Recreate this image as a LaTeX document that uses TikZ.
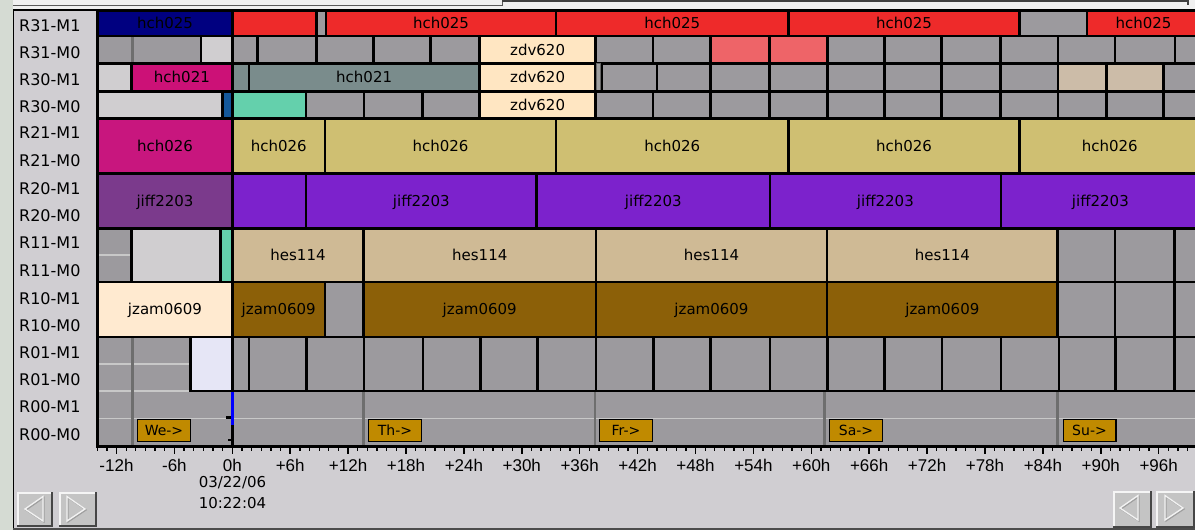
\documentclass[tikz,border=0pt]{standalone}
\usepackage{fontspec}
\setmainfont{DejaVu Sans}
\newfontfamily\tickfont{Liberation Sans}
\definecolor{winbg}{HTML}{D5DBD3}
\definecolor{panel}{HTML}{D0CED2}
\definecolor{chartbg}{HTML}{9C9A9E}
\definecolor{gbox}{HTML}{9C9A9E}
\definecolor{cnavy}{HTML}{000080}
\definecolor{cred}{HTML}{EE2A2A}
\definecolor{lred}{HTML}{EE6468}
\definecolor{peach}{HTML}{FFE6C2}
\definecolor{lgray}{HTML}{D0CED0}
\definecolor{magA}{HTML}{CC1177}
\definecolor{magB}{HTML}{C8167E}
\definecolor{tealgray}{HTML}{7A8C8C}
\definecolor{blueS}{HTML}{14589A}
\definecolor{cteal}{HTML}{64D0AC}
\definecolor{beige}{HTML}{CCBCA8}
\definecolor{khaki}{HTML}{CFBF72}
\definecolor{purpA}{HTML}{7B3A8C}
\definecolor{cviolet}{HTML}{7C22CC}
\definecolor{ctan}{HTML}{CFBA95}
\definecolor{cream}{HTML}{FFEAD0}
\definecolor{cbrown}{HTML}{8C6008}
\definecolor{lav}{HTML}{E6E6F6}
\definecolor{dayc}{HTML}{C08A00}
\definecolor{daylinec}{HTML}{6E6E6E}
\definecolor{bglinec}{HTML}{C8C8C8}
\definecolor{btnc}{HTML}{C4C4C4}
\newcommand\gbx[5]{\filldraw[fill=#5,draw=black,line width=2.6pt] (#1,#3) rectangle (#2,#4);}
\newcommand\gbxt[6]{\gbx{#1}{#2}{#3}{#4}{#5}\node[boxlab] at ({(#1+#2)/2},{(#3+#4)/2}) {#6};}
\newcommand\btnbox[4]{%
  \fill[btnc] (#1,#2) rectangle (#3,#4);
  \draw[white!92!gray, line width=2pt] (#1+1,#4) -- (#1+1,#2+1) -- (#3,#2+1);
  \draw[gray!55!black, line width=2pt] (#1,#4-1) -- (#3-1,#4-1) -- (#3-1,#2);}
\begin{document}
\begin{tikzpicture}[x=1pt,y=-1pt,
  boxlab/.style={font=\fontsize{15}{18}\selectfont, text=black, inner sep=0pt, text height=11pt, text depth=0pt},
  rowlab/.style={font=\fontsize{16}{18}\selectfont, anchor=west, inner sep=0pt, text height=11.7pt, text depth=0pt},
  ticklab/.style={font=\tickfont\fontsize{17}{20}\selectfont, inner sep=0pt, text height=12.2pt, text depth=0pt},
  datelab/.style={font=\fontsize{15}{18}\selectfont, inner sep=0pt, text height=11pt, text depth=0pt},
  daylab/.style={draw=black, line width=1.4pt, fill=dayc, minimum width=52.6pt, minimum height=21.6pt, inner sep=0pt, font=\fontsize{14}{16}\selectfont},
  tri/.style={line width=1.3pt, line join=miter},
]
\useasboundingbox (0,0) rectangle (1195,530);
\clip (0,0) rectangle (1195,530);
% window background
\fill[winbg] (0,0) rectangle (1195,530);
\fill[panel] (13,10) rectangle (1195,530);
% top strip
\fill[white!88!gray] (13,0) rectangle (1195,9);
\draw[gray!70!black, line width=1pt] (13,5) -- (502,5) -- (502,0);
\draw[black!75, line width=1.2pt] (502,1) -- (1188,1) -- (1188,5);
% chart area
\fill[chartbg] (97,10) rectangle (1195,446);
\foreach \yy in {35.8,63.6,91.2,118.6,146.1,173.6,201.1,228.6,255.2,281.8,309.3,336.8,363.9,391,418.5}
  \draw[bglinec, line width=1.6pt] (97,\yy) -- (1195,\yy);
\foreach \xx in {132.3,363.5,594.8,824.4,1057.5}
  \draw[daylinec, line width=2.6pt] (\xx,10) -- (\xx,446);
% R31-M1
\gbxt{97.5}{232.5}{11}{35.8}{cnavy}{hch025}
\gbx{232.5}{316.5}{11}{35.8}{cred}
\gbx{316.5}{326}{11}{35.8}{gbox}
\gbxt{326}{556}{11}{35.8}{cred}{hch025}
\gbxt{556}{788.5}{11}{35.8}{cred}{hch025}
\gbxt{788.5}{1019.5}{11}{35.8}{cred}{hch025}
\gbx{1019.5}{1087}{11}{35.8}{gbox}
\gbxt{1087}{1200}{11}{35.8}{cred}{hch025}
% R31-M0
\gbx{201}{232.5}{35.8}{63.6}{lgray}
\foreach \xa/\xb in {232.5/257.2,257.2/316.7,316.7/373.2,373.2/430.7,430.7/479.5,595.7/653,653/710.3,827.5/884.2,884.2/941.3,941.3/1000.7,1000.7/1058,1058/1115,1115/1175,1175/1200}
  {\gbx{\xa}{\xb}{35.8}{63.6}{gbox}}
\gbxt{479.5}{595.7}{35.8}{63.6}{peach}{zdv620}
\gbx{710.3}{769.7}{35.8}{63.6}{lred}
\gbx{769.7}{827.5}{35.8}{63.6}{lred}
% R30-M1
\gbx{97.5}{131.3}{63.6}{91.2}{lgray}
\gbxt{131.3}{232.5}{63.6}{91.2}{magA}{hch021}
\gbx{232.5}{248.8}{63.6}{91.2}{tealgray}
\gbxt{248.8}{479.5}{63.6}{91.2}{tealgray}{hch021}
\gbxt{479.5}{595.7}{63.6}{91.2}{peach}{zdv620}
\foreach \xa/\xb in {601.5/657,657/710.3,710.3/769.7,769.7/827.5,827.5/884.2,884.2/941.3,941.3/1000.7,1000.7/1058,1163.7/1200}
  {\gbx{\xa}{\xb}{63.6}{91.2}{gbox}}
\gbx{1058}{1106.3}{63.6}{91.2}{beige}
\gbx{1106.3}{1163.7}{63.6}{91.2}{beige}
\filldraw[fill=gray!75, draw=black!60, line width=0.8pt] (596.2,63.3) rectangle (600.8,90.8);
% R30-M0
\gbx{97.5}{222.5}{91.2}{118.6}{lgray}
\gbx{222.5}{232.5}{91.2}{118.6}{blueS}
\gbx{232.5}{306}{91.2}{118.6}{cteal}
\foreach \xa/\xb in {306/364,364/422.3,422.3/479.5,595.7/653,653/710.3,710.3/769.7,769.7/827.5,827.5/884.2,884.2/941.3,941.3/1000.7,1000.7/1058,1058/1106.3,1106.3/1163.7,1163.7/1200}
  {\gbx{\xa}{\xb}{91.2}{118.6}{gbox}}
\gbxt{479.5}{595.7}{91.2}{118.6}{peach}{zdv620}
% R21
\gbxt{97.5}{232.5}{118.6}{173.6}{magB}{hch026}
\gbxt{232.5}{325}{118.6}{173.6}{khaki}{hch026}
\gbxt{325}{556}{118.6}{173.6}{khaki}{hch026}
\gbxt{556}{788.5}{118.6}{173.6}{khaki}{hch026}
\gbxt{788.5}{1019.5}{118.6}{173.6}{khaki}{hch026}
\gbxt{1019.5}{1200}{118.6}{173.6}{khaki}{hch026}
% R20
\gbxt{97.5}{232.5}{173.6}{228.6}{purpA}{jiff2203}
\gbx{232.5}{306}{173.6}{228.6}{cviolet}
\gbxt{306}{536.7}{173.6}{228.6}{cviolet}{jiff2203}
\gbxt{536.7}{770}{173.6}{228.6}{cviolet}{jiff2203}
\gbxt{770}{1000.8}{173.6}{228.6}{cviolet}{jiff2203}
\gbxt{1000.8}{1200}{173.6}{228.6}{cviolet}{jiff2203}
% R11
\gbx{131.5}{220.3}{228.6}{281.8}{lgray}
\gbx{220.3}{232.5}{228.6}{281.8}{cteal}
\gbxt{232.5}{363.5}{228.6}{281.8}{ctan}{hes114}
\gbxt{363.5}{596}{228.6}{281.8}{ctan}{hes114}
\gbxt{596}{827}{228.6}{281.8}{ctan}{hes114}
\gbxt{827}{1057.7}{228.6}{281.8}{ctan}{hes114}
\foreach \xa/\xb in {1057.7/1115,1115/1174.3,1174.3/1200}
  {\gbx{\xa}{\xb}{228.6}{281.8}{gbox}}
% R10
\gbxt{97.5}{232.5}{281.8}{336.8}{cream}{jzam0609}
\gbxt{232.5}{325}{281.8}{336.8}{cbrown}{jzam0609}
\gbx{325}{363.5}{281.8}{336.8}{gbox}
\gbxt{363.5}{596}{281.8}{336.8}{cbrown}{jzam0609}
\gbxt{596}{827}{281.8}{336.8}{cbrown}{jzam0609}
\gbxt{827}{1057.7}{281.8}{336.8}{cbrown}{jzam0609}
\foreach \xa/\xb in {1057.7/1115,1115/1174.3,1174.3/1200}
  {\gbx{\xa}{\xb}{281.8}{336.8}{gbox}}
% R01
\gbx{190.5}{232.5}{336.8}{391}{lav}
\foreach \xa/\xb in {232.5/249,249/306.5,306.5/364,364/423,423/480.5,480.5/537.5,537.5/596,596/653.5,653.5/710.5,710.5/770,770/827.3,827.3/884.5,884.5/942,942/1001,1001/1059,1059/1115.5,1115.5/1174.5,1174.5/1200}
  {\gbx{\xa}{\xb}{336.8}{391}{gbox}}
% R00 day labels
\node[daylab] (dWe) at (164,430.5) {We->};
\node[daylab] (dTh) at (395,430.5) {Th->};
\node[daylab] (dFr) at (626,430.5) {Fr->};
\node[daylab] (dSa) at (856,430.5) {Sa->};
\node[daylab] (dSu) at (1089.5,430.5) {Su->};
% now line
\draw[blue, line width=3pt] (232.3,392) -- (232.3,425);
\draw[black, line width=3pt] (232.3,425) -- (232.3,446);
\fill[black] (226,416.2) rectangle (231,418.8);
\fill[black] (228,438.5) rectangle (231,441.2);
% chart borders
\draw[black, line width=2.6pt] (97.5,10) -- (97.5,447);
\draw[black, line width=2pt] (13,10.3) -- (1195,10.3);
\draw[black, line width=1.5pt] (13.3,10) -- (13.3,530);
\draw[gray!60!black, line width=1.5pt] (13,529) -- (1195,529);
% row labels
\foreach \yy/\lbl in {26/R31-M1,53/R31-M0,80/R30-M1,107/R30-M0,133/R21-M1,161/R21-M0,189/R20-M1,216/R20-M0,243/R11-M1,271/R11-M0,299/R10-M1,326/R10-M0,353/R01-M1,380/R01-M0,407/R00-M1,434.5/R00-M0}
  \node[rowlab] at (19,\yy) {\lbl};
% axis
\draw[black, line width=3pt] (96,446) -- (1195,446);
\foreach \t in {-14,...,100}
  \draw[black, line width=1.3pt] ({232.3+9.65*\t},446) -- ++(0,4.5);
\foreach \t/\lbl in {-12/-12h,-6/-6h,0/0h,6/+6h,12/+12h,18/+18h,24/+24h,30/+30h,36/+36h,42/+42h,48/+48h,54/+54h,60/+60h,66/+66h,72/+72h,78/+78h,84/+84h,90/+90h,96/+96h}
  {\draw[black, line width=1.5pt] ({232.3+9.65*\t},446) -- ++(0,7.5);
   \node[ticklab] at ({232.3+9.65*\t},465) {\lbl};}
\node[datelab] (date) at (232.5,482) {03/22/06};
\node[datelab] (time) at (232.5,503) {10:22:04};
% buttons
\btnbox{17}{492}{53}{527}
\btnbox{59}{492}{97}{527}
\btnbox{1113}{491}{1152}{528}
\btnbox{1156}{491}{1195}{528}
\draw[tri, gray!75] (26,510) -- (44,497.5) -- (44,522) -- cycle;
\draw[tri, white!90!gray] (25,509) -- (43,496.5) -- (43,521) -- cycle;
\draw[tri, gray!75] (68,497.5) -- (86,510) -- (68,522) -- cycle;
\draw[tri, white!90!gray] (67,496.5) -- (85,509) -- (67,521) -- cycle;
\draw[tri, gray!75] (1121,509) -- (1139,496.5) -- (1139,521) -- cycle;
\draw[tri, white!90!gray] (1120,508) -- (1138,495.5) -- (1138,520) -- cycle;
\draw[tri, gray!75] (1166,496.5) -- (1184,509) -- (1166,521) -- cycle;
\draw[tri, white!90!gray] (1165,495.5) -- (1183,508) -- (1165,520) -- cycle;
\end{tikzpicture}
\end{document}
